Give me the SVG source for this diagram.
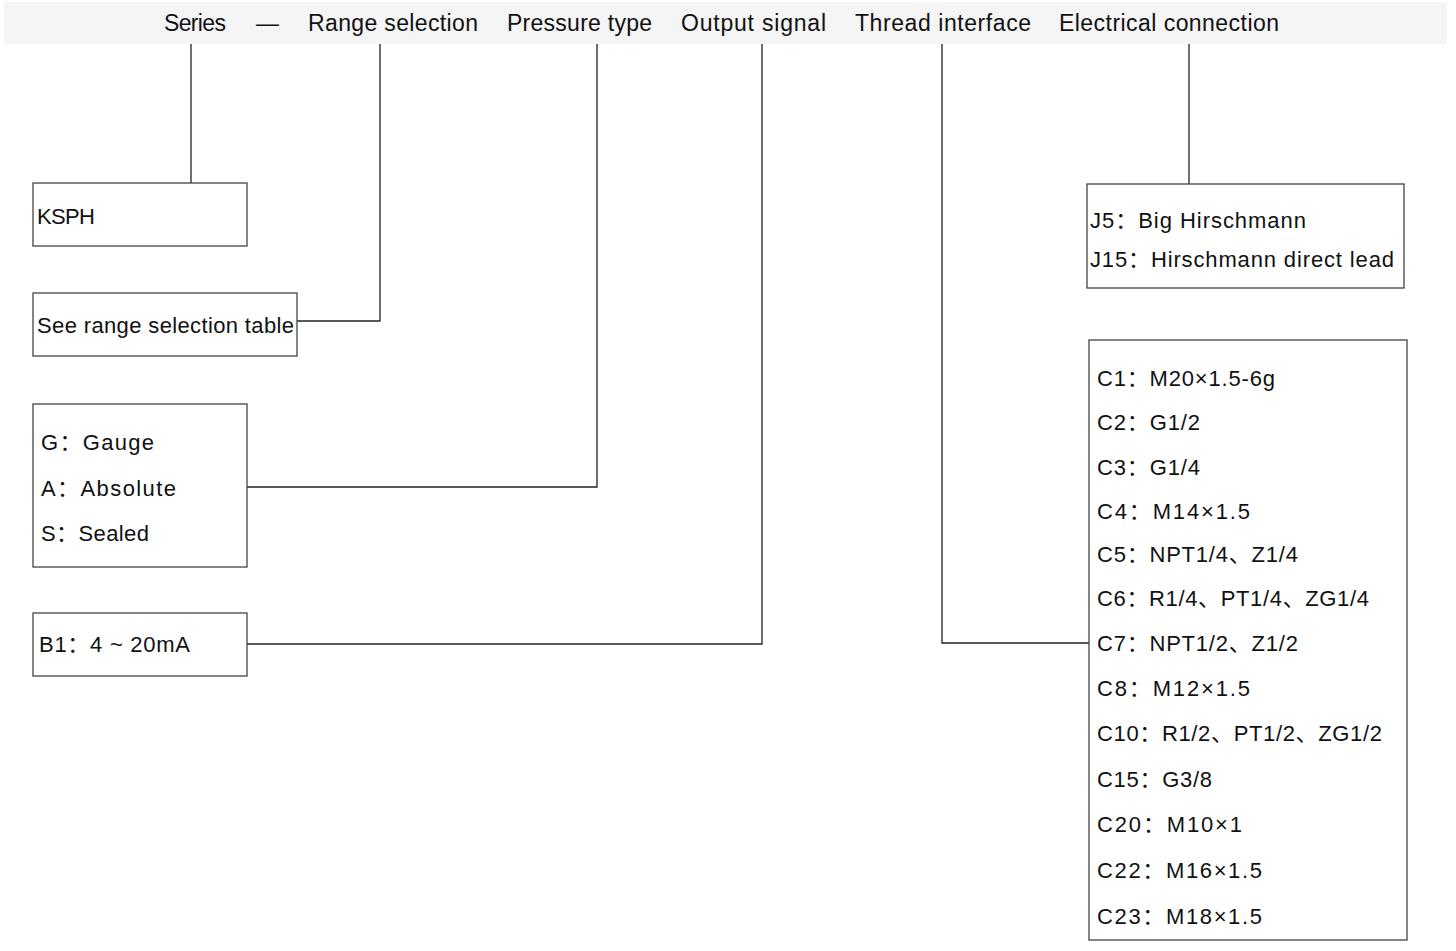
<svg xmlns="http://www.w3.org/2000/svg" width="1456" height="951" viewBox="0 0 1456 951">
<style>
text{font-family:"Liberation Sans","Noto Sans CJK SC",sans-serif;fill:#111;}
.h{font-size:23px;}
.t{font-size:22px;}
.box{fill:#fff;stroke:#444;stroke-width:1.3;}
.ln{fill:none;stroke:#222;stroke-width:1.3;}
</style>
<rect x="4" y="2" width="1443" height="42" fill="#f5f5f5"/>
<g id="header">
<text class="h" x="164" y="31" textLength="62">Series</text>
<text class="h" x="256" y="31">—</text>
<text class="h" x="308" y="31" textLength="170">Range selection</text>
<text class="h" x="507" y="31" textLength="145">Pressure type</text>
<text class="h" x="681" y="31" textLength="145">Output signal</text>
<text class="h" x="855" y="31" textLength="176">Thread interface</text>
<text class="h" x="1059" y="31" textLength="220">Electrical connection</text>
</g>
<g id="connectors">
<path class="ln" d="M191 44V183"/>
<path class="ln" d="M380 44V321H297"/>
<path class="ln" d="M597 44V487H247"/>
<path class="ln" d="M762 44V644H247"/>
<path class="ln" d="M942 44V643H1089"/>
<path class="ln" d="M1189 44V184"/>
</g>
<g id="series">
<rect class="box" x="33" y="183" width="214" height="63"/>
<text class="t" x="37" y="224" textLength="58">KSPH</text>
</g>
<g id="range">
<rect class="box" x="33" y="293" width="264" height="63"/>
<text class="t" x="37" y="333" textLength="257">See range selection table</text>
</g>
<g id="pressure">
<rect class="box" x="33" y="404" width="214" height="163"/>
<text class="t" x="41" y="450" textLength="113">G：Gauge</text>
<text class="t" x="41" y="496" textLength="135">A：Absolute</text>
<text class="t" x="41" y="541" textLength="108">S：Sealed</text>
</g>
<g id="output">
<rect class="box" x="33" y="613" width="214" height="63"/>
<text class="t" x="39" y="652" textLength="151">B1：4 ~ 20mA</text>
</g>
<g id="electrical">
<rect class="box" x="1087" y="184" width="317" height="104"/>
<text class="t" x="1090" y="228" textLength="216">J5：Big Hirschmann</text>
<text class="t" x="1090" y="267" textLength="304">J15：Hirschmann direct lead</text>
</g>
<g id="thread">
<rect class="box" x="1089" y="340" width="318" height="600"/>
<text class="t" x="1097" y="386" textLength="178">C1：M20×1.5-6g</text>
<text class="t" x="1097" y="430" textLength="103">C2：G1/2</text>
<text class="t" x="1097" y="475" textLength="103">C3：G1/4</text>
<text class="t" x="1097" y="519" textLength="153">C4：M14×1.5</text>
<text class="t" x="1097" y="562" textLength="201">C5：NPT1/4、Z1/4</text>
<text class="t" x="1097" y="606" textLength="272">C6：R1/4、PT1/4、ZG1/4</text>
<text class="t" x="1097" y="651" textLength="201">C7：NPT1/2、Z1/2</text>
<text class="t" x="1097" y="696" textLength="153">C8：M12×1.5</text>
<text class="t" x="1097" y="741" textLength="285">C10：R1/2、PT1/2、ZG1/2</text>
<text class="t" x="1097" y="787" textLength="115">C15：G3/8</text>
<text class="t" x="1097" y="832" textLength="145">C20：M10×1</text>
<text class="t" x="1097" y="878" textLength="165">C22：M16×1.5</text>
<text class="t" x="1097" y="924" textLength="165">C23：M18×1.5</text>
</g>
</svg>
